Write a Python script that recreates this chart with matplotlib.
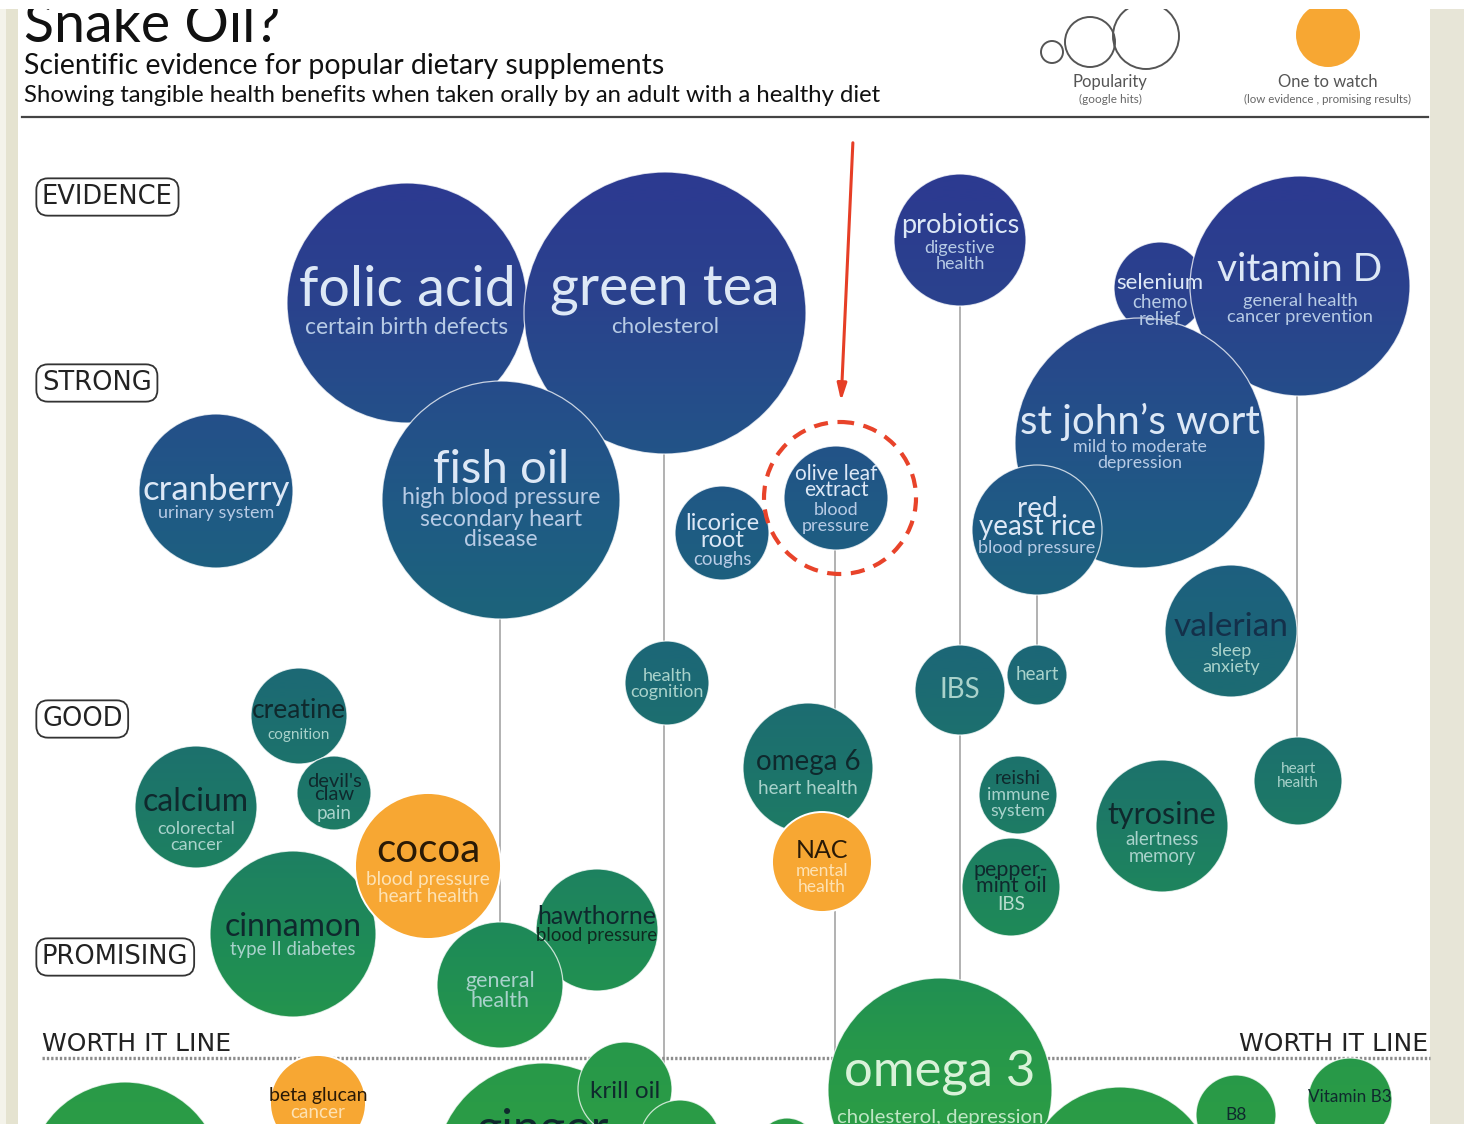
import numpy as np
import matplotlib
matplotlib.use("Agg")
import matplotlib.pyplot as plt
from matplotlib.patches import Circle, Rectangle
from matplotlib.colors import LinearSegmentedColormap

# ---------------- data ----------------
names = ["folic acid", "green tea", "fish oil", "cranberry", "probiotics", "selenium",
         "vitamin D", "st john\u2019s wort", "red\nyeast rice", "licorice\nroot",
         "olive leaf\nextract", "", "", "", "valerian", "", "creatine", "calcium",
         "devil's\nclaw", "cinnamon", "cocoa", "hawthorne", "", "omega 6", "NAC",
         "reishi", "pepper-\nmint oil", "tyrosine", "omega 3", "", "beta glucan",
         "ginger", "krill oil", "", "", "", "B8", "Vitamin B3"]
claims = ["certain birth defects", "cholesterol", "high blood pressure\nsecondary heart\ndisease",
          "urinary system", "digestive\nhealth", "chemo\nrelief", "general health\ncancer prevention",
          "mild to moderate\ndepression", "blood pressure", "coughs", "blood\npressure",
          "health\ncognition", "IBS", "heart", "sleep\nanxiety", "heart\nhealth", "cognition",
          "colorectal\ncancer", "pain", "type II diabetes", "blood pressure\nheart health",
          "blood pressure", "general\nhealth", "heart health", "mental\nhealth", "immune\nsystem",
          "IBS", "alertness\nmemory", "cholesterol, depression", "", "cancer", "", "", "", "", "",
          "", ""]
bx = [407, 665, 501, 216, 960, 1160, 1300, 1140, 1037, 722, 836, 667, 960, 1037, 1231, 1298,
      299, 196, 334, 293, 428, 597, 500, 808, 822, 1018, 1011, 1162, 940, 125, 318, 543, 625,
      680, 787, 1120, 1236, 1350]
by = [303, 313, 500, 491, 240, 288, 286, 443, 530, 533, 498, 683, 690, 675, 631, 781,
      716, 807, 793, 934, 866, 930, 985, 768, 862, 795, 887, 826, 1090, 1179, 1103, 1171, 1089,
      1140, 1148, 1181, 1115, 1100]
br = [120, 141, 119, 77, 66, 46, 110, 125, 65, 47, 52, 42, 45, 30, 66, 44,
      48, 61, 37, 83, 73, 61, 63, 65, 50, 39, 49, 66, 112, 97, 48, 108, 47,
      40, 30, 94, 40, 42]
one_to_watch = ["cocoa", "NAC", "beta glucan"]

# connectors between a supplement and its weaker claims
line_x = [500, 664, 835, 960, 1037, 1297]
line_y0 = [500, 313, 498, 240, 530, 286]
line_y1 = [985, 1100, 1124, 1000, 675, 781]

levels = ["EVIDENCE", "STRONG", "GOOD", "PROMISING"]
level_y = [197, 383, 719, 957]

legend_r = [11, 25, 33]
legend_x = [1052, 1090, 1146]
legend_y = [52, 42, 36]

# ---------------- style ----------------
name_y = [290, 291, 470, 490, 226, 283, 270, 422, 518, 532, 482, 0, 0, 0, 627, 0,
          711, 802, 788, 927, 850, 917, 0, 762, 850, 778, 878, 815, 1072, 0, 1096,
          1130, 1092, 0, 0, 0, 1115, 1097]
name_pt = [40, 40, 34, 25, 19.5, 16, 28, 29, 20, 17, 15, 0, 0, 0, 24, 0,
           19, 23, 14.5, 23, 29, 18, 0, 20, 18, 14, 15.5, 22, 36.5, 0, 14,
           35, 17.5, 0, 0, 0, 12.5, 12.3]
claim_y = [327, 327, 519, 513, 256, 311, 309, 455, 548, 559, 518, 684, 690, 675, 659, 776,
           735, 837, 813, 950, 888, 936, 991, 788, 879, 803, 905, 848, 1117, 0, 1113,
           0, 0, 0, 0, 0, 0, 0]
claim_pt = [16.5, 16, 16.5, 13, 13, 13.5, 13.2, 12.8, 13, 13.5, 13, 13, 20, 13.5, 13, 11,
            11, 13, 13.5, 13.4, 13.7, 13.4, 15.5, 13.5, 12.6, 12.8, 13.5, 13.4, 14.7, 0, 13.6,
            0, 0, 0, 0, 0, 0, 0]

FONT = ["Lato", "DejaVu Sans"]
ORANGE = "#f7a733"
W, H = 1464, 1124

fig = plt.figure(figsize=(W / 100, H / 100), dpi=100)
fig.patch.set_facecolor("white")
ax = fig.add_axes([0, 0, 1, 1])
ax.set_xlim(0, W)
ax.set_ylim(H, 0)
ax.axis("off")

# page background strips
ax.add_patch(Rectangle((0, 0), 6, H, fc="#f4f3ea", ec="none", zorder=0))
ax.add_patch(Rectangle((6, 0), 12, H, fc="#e5e3d0", ec="none", zorder=0))
ax.add_patch(Rectangle((1430, 0), W - 1430, H, fc="#e7e5d7", ec="none", zorder=0))

# vertical gradient navy -> teal -> green
stops = [(0, "#2c3a91"), (200, "#2c3b90"), (300, "#2a428d"), (420, "#245089"),
         (520, "#1f5b84"), (620, "#1c647a"), (700, "#1c6c72"), (800, "#1d7768"),
         (880, "#1e835f"), (960, "#1f8d55"), (1050, "#27984a"), (H, "#2b9c46")]
cmap = LinearSegmentedColormap.from_list("ev", [(p / H, c) for p, c in stops])
grad = np.linspace(0, 1, 1024).reshape(-1, 1)

# connectors
for x, y0, y1 in zip(line_x, line_y0, line_y1):
    ax.plot([x, x], [y0, y1], color="#9c9c9c", lw=1.1, zorder=1, solid_capstyle="butt")

# worth-it line
ax.plot([42, 1430], [1058, 1058], color="#8c8c8c", lw=2.4, ls=(0, (0.7, 0.6)), zorder=1.5)
ax.text(42, 1044, "WORTH IT LINE", fontsize=18, family="DejaVu Sans", color="#222",
        ha="left", va="center", zorder=1.5)
ax.text(1428, 1044, "WORTH IT LINE", fontsize=18, family="DejaVu Sans", color="#222",
        ha="right", va="center", zorder=1.5)

# bubbles
for i, (nm, x, y, r) in enumerate(zip(names, bx, by, br)):
    z = 2 + i * 0.01
    if nm in one_to_watch:
        ax.add_patch(Circle((x, y), r, fc=ORANGE, ec="white", lw=1.4, zorder=z))
    else:
        im = ax.imshow(grad, cmap=cmap, extent=(0, W, H, 0), aspect="auto",
                       interpolation="bilinear", zorder=z, vmin=0, vmax=1)
        clip = Circle((x, y), r, transform=ax.transData, fc="none", ec="none")
        im.set_clip_path(clip)
        ax.add_patch(Circle((x, y), r, fc="none", ec="white", lw=0.9, alpha=0.75,
                            zorder=z + 0.001))
ax.set_xlim(0, W)
ax.set_ylim(H, 0)

# labels
for i, (nm, cl) in enumerate(zip(names, claims)):
    x = bx[i]
    yy = by[i]
    if nm in one_to_watch:
        mc, cc = "#2a1a06", "#fde2b4"
    elif yy < 600:
        mc, cc = "#dde8f6", "#b7cbe5"
    elif nm == "omega 3":
        mc, cc = "#d9f2d9", "#bfe6c4"
    else:
        mc, cc = "#0f292d", "#a9d2cb"
    if nm == "hawthorne":
        cc = "#0f2a20"
    if nm == "valerian":
        mc = "#14304a"
    if nm == "pepper-\nmint oil":
        cc = "#b7dccd"
    ls_main = 0.6 if nm.startswith("red") else 0.78
    if nm:
        ax.text(x, name_y[i], nm, fontsize=name_pt[i], family=FONT, color=mc,
                ha="center", va="center", linespacing=ls_main, zorder=10)
    if cl:
        ax.text(x, claim_y[i], cl, fontsize=claim_pt[i], family=FONT, color=cc,
                ha="center", va="center", linespacing=1.0, zorder=10)

# highlighted bubble + arrow
ax.add_patch(Circle((840, 498), 76, fc="none", ec="#e8432a", lw=3.0,
                    ls=(0, (3.4, 2.3)), zorder=11))
ax.annotate("", xy=(841, 404), xytext=(853, 140),
            arrowprops=dict(arrowstyle="-|>,head_width=0.28,head_length=1.0",
                            color="#e63e26", lw=2.2), zorder=11)

# level boxes
for lab, y in zip(levels, level_y):
    ax.text(42, y, lab, fontsize=18.5, family="DejaVu Sans", color="#222", ha="left",
            va="center", zorder=12,
            bbox=dict(boxstyle="round,pad=0.22,rounding_size=0.45", fc="white",
                      ec="#333", lw=1.3))

# header
ax.text(24, 42, "Snake Oil?", fontsize=40, family=FONT, color="#111", ha="left",
        va="baseline", zorder=12)
ax.text(24, 66, "Scientific evidence for popular dietary supplements", fontsize=20.4,
        family=FONT, color="#111", ha="left", va="center", zorder=12)
ax.text(24, 95, "Showing tangible health benefits when taken orally by an adult with a healthy diet",
        fontsize=17.2, family=FONT, color="#111", ha="left", va="center", zorder=12)
ax.plot([22, 1428], [117, 117], color="#444", lw=1.6, zorder=12)

# legend
for x, y, r in zip(legend_x, legend_y, legend_r):
    ax.add_patch(Circle((x, y), r, fc="none", ec="#555", lw=1.4, zorder=12))
ax.text(1110, 82, "Popularity", fontsize=12, family=FONT, color="#555",
        ha="center", va="center", zorder=12)
ax.text(1110, 99, "(google hits)", fontsize=8.5, family=FONT, color="#666",
        ha="center", va="center", zorder=12)
ax.add_patch(Circle((1328, 35), 32, fc=ORANGE, ec="none", zorder=12))
ax.text(1328, 82, "One to watch", fontsize=12, family=FONT, color="#555",
        ha="center", va="center", zorder=12)
ax.text(1328, 99, "(low evidence , promising results)", fontsize=8.3, family=FONT,
        color="#666", ha="center", va="center", zorder=12)

# top cut band
ax.add_patch(Rectangle((0, 0), W, 9, fc="white", ec="none", zorder=20))

fig.savefig("out.png", dpi=100, facecolor="white")
